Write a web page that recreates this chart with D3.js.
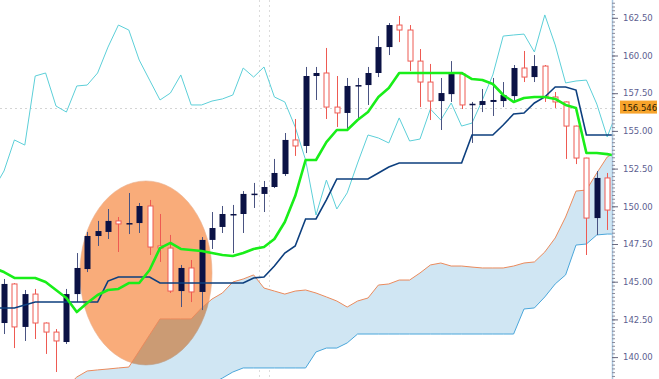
<!DOCTYPE html>
<html><head><meta charset="utf-8">
<script src="https://cdn.jsdelivr.net/npm/d3@7"></script>
<style>
html,body{margin:0;padding:0;background:#fff;}
svg{display:block;}
</style></head>
<body>
<svg id="chart" width="659" height="379"></svg>
<script>
// ---- data (USD/JPY style daily candles with Ichimoku lines) ----
const opens  = [142.26,144.85,142.00,144.18,142.26,141.66,141.00,144.18,145.84,148.03,148.30,149.03,148.83,148.89,150.02,147.37,147.23,144.38,145.91,144.32,147.77,148.63,149.42,149.49,150.80,150.82,151.28,152.14,154.40,154.00,158.64,158.84,156.58,156.19,157.98,158.04,158.84,160.56,162.02,161.69,159.63,158.24,156.98,157.44,158.77,156.72,156.72,156.92,156.98,157.31,159.17,158.57,159.30,157.25,156.92,155.32,153.20,149.22,151.88];
const highs  = [145.18,144.91,144.45,144.52,142.30,141.86,144.52,146.90,148.30,149.03,149.82,149.29,150.88,150.22,150.42,149.49,148.10,146.11,146.44,147.96,149.62,150.02,150.09,151.01,151.55,151.68,153.14,154.86,155.79,159.24,159.24,160.50,158.64,158.51,158.51,159.24,161.29,162.15,162.62,162.02,160.43,159.44,158.51,159.63,158.84,156.92,157.78,158.51,158.24,159.37,160.30,160.03,159.37,157.58,156.95,155.35,153.22,152.34,152.21];
const lows   = [141.53,140.60,141.07,141.20,140.21,139.01,140.87,143.65,145.64,147.37,147.83,146.97,148.16,148.23,146.77,146.31,144.25,143.32,143.65,143.12,147.17,148.23,146.90,148.23,149.89,149.62,151.21,152.01,153.34,153.53,157.05,155.79,155.26,155.06,155.72,156.72,158.57,160.03,160.89,158.97,156.58,155.72,155.06,156.92,156.45,154.20,156.25,155.99,156.58,156.98,158.24,158.24,156.92,156.52,153.14,152.80,146.77,148.10,148.43];
const closes = [144.85,142.00,144.18,142.26,141.66,141.07,144.18,145.91,148.03,148.36,149.03,148.83,148.89,150.02,147.30,147.23,144.38,145.91,144.32,147.77,148.56,149.49,149.49,150.82,150.84,151.28,152.21,154.40,154.00,158.64,158.84,156.58,156.19,157.98,158.04,158.84,160.56,162.02,161.69,159.63,158.24,156.98,157.51,158.77,156.72,156.80,156.98,157.05,157.38,159.17,158.57,159.30,157.25,156.92,155.32,153.20,149.22,151.88,149.75];

// indicator lines, first value sits one bar before the first candle
const lineStart = -1;
const tenkan  = [145.91,145.64,145.25,145.25,145.25,144.98,144.45,143.92,142.99,143.59,144.12,144.45,144.52,144.91,144.91,145.78,147.23,147.57,147.17,147.10,147.04,146.90,146.77,146.70,146.90,147.17,147.30,147.83,148.96,150.68,153.07,153.07,154.26,155.06,155.06,155.72,156.25,157.25,157.84,158.84,158.84,158.84,158.84,158.84,158.84,158.84,158.44,158.37,158.11,157.38,156.92,157.18,157.25,157.25,157.12,156.72,156.52,153.53,153.53,153.46,153.34];
const kijun   = [143.26,143.26,143.26,143.46,143.65,143.65,143.65,143.65,143.65,143.65,143.65,145.04,145.31,145.31,145.31,145.31,144.91,144.91,144.91,144.91,144.91,144.91,144.91,144.91,144.91,145.25,145.31,146.04,146.90,147.37,149.16,149.16,150.42,151.81,151.81,151.81,151.81,152.21,152.61,152.87,152.87,152.87,152.87,152.87,152.87,152.87,154.73,154.73,154.73,155.39,156.12,156.19,156.85,157.25,157.91,157.91,157.71,154.73,154.73,154.73,154.73];
const chikou  = [151.15,152.34,154.40,154.06,158.64,158.84,156.65,156.25,157.98,158.04,158.84,160.56,162.02,161.69,159.70,158.37,157.05,157.51,158.71,156.72,156.72,156.98,157.12,157.38,159.17,158.57,159.24,157.25,156.92,155.26,153.07,149.42,151.74,149.82,150.89,152.87,154.73,154.53,154.20,155.86,154.33,154.46,156.45,155.72,156.85,155.32,155.52,157.05,158.71,161.29,161.36,161.42,160.23,162.69,160.70,158.18,158.31,158.37,156.78,154.60,156.39];
const senkouA = [137.00,137.00,137.00,137.10,137.20,137.30,137.40,138.00,138.68,139.08,139.15,139.21,139.28,139.34,140.40,141.47,142.53,142.53,142.53,142.53,143.26,143.85,144.25,144.98,145.18,145.45,144.58,144.38,144.18,144.38,144.45,144.25,143.99,143.72,143.32,143.72,143.92,144.78,144.85,145.11,145.11,145.58,146.11,146.24,146.04,146.04,145.97,145.91,145.91,145.91,146.04,146.24,146.31,146.97,147.90,149.29,151.01,151.08,152.21,153.27,153.67];
const senkouB = [136.50,136.50,136.50,136.50,136.50,136.50,136.50,136.50,136.50,136.50,136.50,136.50,136.50,136.50,136.50,136.50,136.50,136.50,136.50,136.50,137.83,138.22,138.61,139.01,139.28,139.28,139.28,139.28,139.28,139.28,139.28,140.34,140.60,140.60,140.94,141.53,141.53,141.53,141.53,141.53,141.53,141.53,141.53,141.53,141.53,141.53,141.53,141.53,141.53,141.53,141.53,143.19,143.26,143.99,144.85,145.45,147.43,147.50,148.10,148.16,148.16];

const yTicks = [140.00,142.50,145.00,147.50,150.00,152.50,155.00,157.50,160.00,162.50];
const lastPrice = 156.546;
const cursorBars = [24.5, 25.5];
// highlighted zone (ellipse) in bar / price units
const zone = {bar: 13.65, price: 145.58, rBars: 6.35, rPrice: 6.1};

// ---- layout ----
const W = 659, H = 379, plotW = 612;
const svg = d3.select("#chart");
const x = d3.scaleLinear().domain([0, 58]).range([4, 607.2]);
const y = d3.scaleLinear().domain([140, 162.5]).range([357.1, 17.8]);

const defs = svg.append("defs");
defs.append("clipPath").attr("id","clip").append("rect").attr("x",0).attr("y",0).attr("width",plotW).attr("height",H);

const plot = svg.append("g").attr("clip-path","url(#clip)");

const lineData = arr => arr.map((v,i)=>({i:i+lineStart, v}));

// cursor/grid dotted lines
plot.append("line").attr("x1",0).attr("x2",plotW).attr("y1",Math.round(y(lastPrice))+0.5).attr("y2",Math.round(y(lastPrice))+0.5)
  .attr("stroke","#d4d4d4").attr("stroke-dasharray","2,3");
cursorBars.forEach(b=>{
  const xx = Math.round(x(b))+0.5;
  plot.append("line").attr("x1",xx).attr("x2",xx).attr("y1",0).attr("y2",H)
    .attr("stroke","#dcdcdc").attr("stroke-dasharray","2,3");
});

// cloud fill
const cloud = senkouA.map((a,i)=>({i:i+lineStart, a, b:senkouB[i]}));
plot.append("path").datum(cloud)
  .attr("d", d3.area().x(d=>x(d.i)).y0(d=>y(d.b)).y1(d=>y(d.a)))
  .attr("fill","#d0e6f3");

// highlighted ellipse
plot.append("ellipse")
  .attr("cx", x(zone.bar)).attr("cy", y(zone.price))
  .attr("rx", x(zone.bar+zone.rBars)-x(zone.bar))
  .attr("ry", y(zone.price-zone.rPrice)-y(zone.price))
  .attr("fill","#f9ac7a").attr("stroke","#e8b090").attr("stroke-width",0.6)
  .style("mix-blend-mode","multiply");

const ln = d3.line().x(d=>x(d.i)).y(d=>y(d.v));
plot.append("path").datum(lineData(senkouA)).attr("d",ln).attr("fill","none").attr("stroke","#ea8a5c").attr("stroke-width",1);
plot.append("path").datum(lineData(senkouB)).attr("d",ln).attr("fill","none").attr("stroke","#4aa6da").attr("stroke-width",1);
plot.append("path").datum(lineData(chikou)).attr("d",ln).attr("fill","none").attr("stroke","#5ccfd8").attr("stroke-width",1);

// candles
const bars = d3.range(opens.length).map(i=>({i,o:opens[i],h:highs[i],l:lows[i],c:closes[i]}));
const bw = 6;
const cg = plot.append("g");
bars.forEach(d=>{
  const up = d.c >= d.o;
  const cx = Math.round(x(d.i));
  const top = y(Math.max(d.o,d.c)), bot = y(Math.min(d.o,d.c));
  if (up) {
    cg.append("line").attr("x1",cx+0.5).attr("x2",cx+0.5).attr("y1",y(d.h)).attr("y2",y(d.l)).attr("stroke","#4a5482").attr("stroke-width",1);
    cg.append("rect").attr("x",cx-bw/2+0.5).attr("y",top).attr("width",bw).attr("height",Math.max(1.5,bot-top)).attr("fill","#0b1245");
  } else {
    cg.append("line").attr("x1",cx+0.5).attr("x2",cx+0.5).attr("y1",y(d.h)).attr("y2",top).attr("stroke","#ee5a52").attr("stroke-width",1);
    cg.append("line").attr("x1",cx+0.5).attr("x2",cx+0.5).attr("y1",bot).attr("y2",y(d.l)).attr("stroke","#ee5a52").attr("stroke-width",1);
    cg.append("rect").attr("x",cx-bw/2+1).attr("y",top).attr("width",bw-1).attr("height",Math.max(1,bot-top)).attr("fill","#fff").attr("stroke","#ee5a52").attr("stroke-width",1);
  }
});

plot.append("path").datum(lineData(kijun)).attr("d",ln).attr("fill","none").attr("stroke","#0d3f7e").attr("stroke-width",1.6);
plot.append("path").datum(lineData(tenkan)).attr("d",ln).attr("fill","none").attr("stroke","#19ee19").attr("stroke-width",2.6).attr("stroke-linejoin","round");

// ---- right price axis ----
const axG = svg.append("g").attr("transform",`translate(${plotW},0)`);
axG.append("line").attr("x1",0.5).attr("x2",0.5).attr("y1",0).attr("y2",H).attr("stroke","#a9c6e0").attr("stroke-width",1.5);
const minor = d3.range(137.5, 165.01, 0.25);
axG.append("g").call(d3.axisRight(y).tickValues(minor).tickSize(3).tickFormat(""))
  .call(g=>g.select(".domain").remove())
  .call(g=>g.selectAll("line").attr("stroke","#8a8a9a"));
axG.append("g").call(d3.axisRight(y).tickValues(yTicks).tickSize(6).tickPadding(5).tickFormat(d3.format(".2f")))
  .call(g=>g.select(".domain").remove())
  .call(g=>g.selectAll("line").attr("stroke","#6a6a80"))
  .call(g=>g.selectAll("text").attr("fill","#5d6090").attr("font-family","'DejaVu Sans', Verdana, sans-serif").attr("font-size","8.5px"));

// last price tag
const py = y(lastPrice);
axG.append("rect").attr("x",8).attr("y",py-7).attr("width",37).attr("height",13).attr("fill","#f7a42c");
axG.append("text").attr("x",10).attr("y",py).attr("dy","0.35em").attr("fill","#2a1a00")
  .attr("font-family","'DejaVu Sans', Verdana, sans-serif").attr("font-size","8.5px").text(d3.format(".3f")(lastPrice));
</script>
</body></html>
